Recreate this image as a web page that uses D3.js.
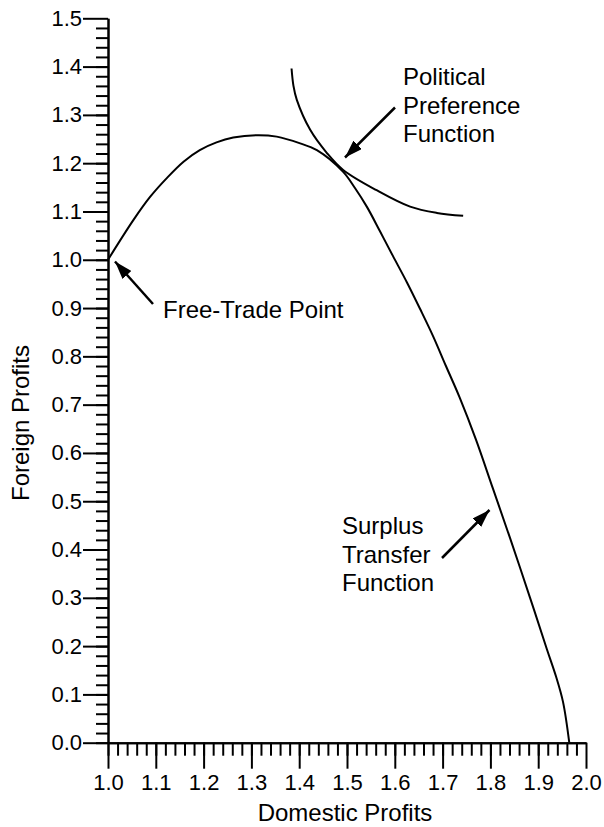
<!DOCTYPE html>
<html>
<head>
<meta charset="utf-8">
<script src="https://cdn.jsdelivr.net/npm/d3@7"></script>
<style>
  html, body { margin: 0; padding: 0; background: #fff; }
  svg { display: block; }
  text { font-family: "Liberation Sans", Arial, Helvetica, sans-serif; fill: #000; }
</style>
</head>
<body>
<svg id="chart" width="604" height="827"></svg>
<script>
// Surplus transfer function: foreign profits against domestic profits
const stfDomestic = [1.000, 1.053, 1.088, 1.123, 1.158, 1.192, 1.227, 1.262, 1.311, 1.353,
                     1.402, 1.437, 1.492, 1.517, 1.542, 1.569, 1.596, 1.626, 1.653, 1.680,
                     1.707, 1.736, 1.770, 1.805, 1.841, 1.883, 1.918, 1.937, 1.952, 1.965];
const stfForeign  = [1.000, 1.082, 1.130, 1.169, 1.203, 1.227, 1.243, 1.253, 1.258, 1.255,
                     1.241, 1.227, 1.182, 1.148, 1.109, 1.059, 1.008, 0.952, 0.898, 0.842,
                     0.780, 0.714, 0.627, 0.527, 0.424, 0.300, 0.194, 0.138, 0.084, 0.000];

// Political preference function (an indifference curve)
const ppfDomestic = [1.384, 1.388, 1.395, 1.423, 1.458, 1.492, 1.562, 1.632, 1.688, 1.743];
const ppfForeign  = [1.396, 1.360, 1.331, 1.269, 1.221, 1.186, 1.144, 1.110, 1.097, 1.091];

// Axis ticks
const xMajorTicks = [1.0, 1.1, 1.2, 1.3, 1.4, 1.5, 1.6, 1.7, 1.8, 1.9, 2.0];
const yMajorTicks = [0.0, 0.1, 0.2, 0.3, 0.4, 0.5, 0.6, 0.7, 0.8, 0.9, 1.0, 1.1, 1.2, 1.3, 1.4, 1.5];
const xMinorTicks = d3.range(50).map(i => 1 + i * 0.02);
const yMinorTicks = d3.range(75).map(i => i * 0.02);

// Annotations
const ppfLabel = ["Political", "Preference", "Function"];
const stfLabel = ["Surplus", "Transfer", "Function"];
const ftpLabel = ["Free-Trade Point"];

const svg = d3.select("#chart");

const x = d3.scaleLinear().domain([1, 2]).range([108, 586]);
const y = d3.scaleLinear().domain([0, 1.5]).range([742.7, 18.3]);

function styleAxis(g) {
  g.selectAll("path, line").attr("stroke", "#000").attr("stroke-width", 2);
  g.selectAll("text").style("font-size", "22px").attr("fill", "#000");
}

// Y axis: minor then major ticks
svg.append("g")
  .attr("transform", `translate(${x(1)},0)`)
  .call(d3.axisLeft(y).tickValues(yMinorTicks).tickSize(12).tickSizeOuter(0).tickFormat(""))
  .call(styleAxis);
svg.append("g")
  .attr("transform", `translate(${x(1)},0)`)
  .call(d3.axisLeft(y).tickValues(yMajorTicks).tickSize(25).tickSizeOuter(0)
        .tickPadding(1).tickFormat(d3.format(".1f")))
  .call(styleAxis);

// X axis: minor then major ticks
svg.append("g")
  .attr("transform", `translate(0,${y(0)})`)
  .call(d3.axisBottom(x).tickValues(xMinorTicks).tickSize(13).tickSizeOuter(0).tickFormat(""))
  .call(styleAxis);
svg.append("g")
  .attr("transform", `translate(0,${y(0)})`)
  .call(d3.axisBottom(x).tickValues(xMajorTicks).tickSize(26).tickSizeOuter(0)
        .tickPadding(6).tickFormat(d3.format(".1f")))
  .call(styleAxis);

// Axis titles
svg.append("text")
  .attr("x", 345).attr("y", 821)
  .attr("text-anchor", "middle")
  .style("font-size", "24px")
  .text("Domestic Profits");
svg.append("text")
  .attr("transform", "translate(29,423) rotate(-90)")
  .attr("text-anchor", "middle")
  .style("font-size", "24px")
  .text("Foreign Profits");

// Curves
const line = d3.line()
  .x(d => x(d[0]))
  .y(d => y(d[1]))
  .curve(d3.curveCatmullRom.alpha(0.5));

svg.append("path")
  .datum(d3.zip(stfDomestic, stfForeign))
  .attr("d", line)
  .attr("fill", "none")
  .attr("stroke", "#000")
  .attr("stroke-width", 2);

svg.append("path")
  .datum(d3.zip(ppfDomestic, ppfForeign))
  .attr("d", line)
  .attr("fill", "none")
  .attr("stroke", "#000")
  .attr("stroke-width", 2);

// Arrow heads
svg.append("defs").append("marker")
  .attr("id", "head")
  .attr("viewBox", "0 0 18 12")
  .attr("refX", 18).attr("refY", 6)
  .attr("markerWidth", 18).attr("markerHeight", 12)
  .attr("markerUnits", "userSpaceOnUse")
  .attr("orient", "auto")
  .append("path")
  .attr("d", "M0,0 L18,6 L0,12 Z")
  .attr("fill", "#000");

function arrow(x1, y1, x2, y2) {
  svg.append("line")
    .attr("x1", x1).attr("y1", y1).attr("x2", x2).attr("y2", y2)
    .attr("stroke", "#000").attr("stroke-width", 2.5)
    .attr("marker-end", "url(#head)");
}

function label(lines, lx, ly, step) {
  const t = svg.append("text").style("font-size", "24px");
  lines.forEach((s, i) => {
    t.append("tspan").attr("x", lx).attr("y", ly + i * step).text(s);
  });
}

label(ppfLabel, 403, 85, 28.5);
arrow(395, 107.5, 345, 157.5);

label(ftpLabel, 163, 318, 28.5);
arrow(153, 304, 115, 261.5);

label(stfLabel, 342, 534, 28.5);
arrow(442, 558, 489.5, 510);
</script>
</body>
</html>
